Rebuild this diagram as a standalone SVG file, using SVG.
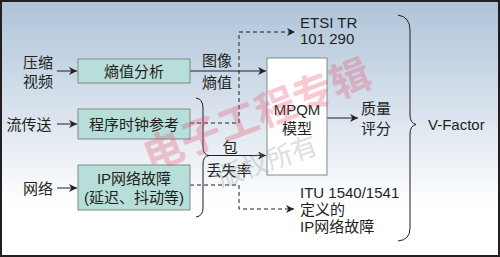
<svg xmlns="http://www.w3.org/2000/svg" width="500" height="257" viewBox="0 0 500 257">
<defs>
<linearGradient id="bg" x1="0" y1="0" x2="0" y2="1">
<stop offset="0" stop-color="#aec3d8"/>
<stop offset="0.45" stop-color="#dbe4ee"/>
<stop offset="0.8" stop-color="#ffffff"/>
<stop offset="1" stop-color="#ffffff"/>
</linearGradient>
<marker id="ah" viewBox="0 0 10 10" refX="10" refY="5" markerWidth="10" markerHeight="8" markerUnits="userSpaceOnUse" orient="auto">
<path d="M0,0 L10,5 L0,10 L3,5 Z" fill="#231f20"/>
</marker>
<style>
text{font-family:"Liberation Sans","Noto Sans CJK SC",sans-serif;font-size:15px;fill:#231f20}
.c{text-anchor:middle}
.box{fill:#b7ded8;stroke:#7f8a8c;stroke-width:1}
.ln{fill:none;stroke:#231f20;stroke-width:1}
.dash{fill:none;stroke:#231f20;stroke-width:1;stroke-dasharray:4,3}
.wm{font-family:"Noto Sans CJK SC",sans-serif}
</style>
</defs>
<rect x="1" y="1" width="498" height="255" fill="url(#bg)" stroke="#231f20" stroke-width="2"/>
<g id="connectors">
<line class="ln" x1="57" y1="71" x2="77" y2="71" marker-end="url(#ah)"/>
<line class="ln" x1="57" y1="124" x2="77" y2="124" marker-end="url(#ah)"/>
<line class="ln" x1="57" y1="188" x2="77" y2="188" marker-end="url(#ah)"/>
<line class="ln" x1="190" y1="71" x2="266" y2="71" marker-end="url(#ah)"/>
<line class="ln" x1="327" y1="118" x2="358" y2="118" marker-end="url(#ah)"/>
<path class="dash" d="M190,123 H239 V32 H295" marker-end="url(#ah)"/>
<path class="dash" d="M190,185 H239 V209 H294" marker-end="url(#ah)"/>
<path class="ln" d="M196,98 Q203,99 203,108 L203,147 Q203,155 209,155.5 Q203,156 203,164 L203,208 Q203,216 196,217"/>
<line class="ln" x1="209" y1="155.5" x2="266" y2="155.5" marker-end="url(#ah)"/>
<path class="ln" d="M398,15 Q410,17 410,30 L410,115 Q410,123 416,124.5 Q410,126 410,134 L410,228 Q410,240 398,241"/>
</g>
<g id="n-compress">
<text class="c" x="38" y="67.5">压缩</text>
<text class="c" x="38" y="86.5">视频</text>
</g>
<g id="n-stream"><text class="c" x="29" y="129.5">流传送</text></g>
<g id="n-net"><text class="c" x="38" y="193.5">网络</text></g>
<g id="n-entropy">
<rect class="box" x="78" y="59" width="112" height="24"/>
<text class="c" x="134" y="76.5">熵值分析</text>
</g>
<g id="n-pcr">
<rect class="box" x="78" y="109" width="112" height="30"/>
<text class="c" x="134" y="129.5">程序时钟参考</text>
</g>
<g id="n-ipimp">
<rect class="box" x="78" y="165" width="112" height="45"/>
<text class="c" x="134" y="184">IP网络故障</text>
<text class="c" x="134" y="202.5">(延迟、抖动等)</text>
</g>
<g id="n-img">
<text class="c" x="217" y="65.5">图像</text>
<text class="c" x="217" y="87.5">熵值</text>
</g>
<g id="n-loss">
<text class="c" x="230" y="152.5">包</text>
<text class="c" x="229" y="175.5">丢失率</text>
</g>
<g id="n-mpqm">
<rect x="267" y="58" width="60" height="117" fill="#ffffff" stroke="#7f8a8c"/>
<text class="c" x="297" y="115.4">MPQM</text>
<text class="c" x="297" y="133.5">模型</text>
</g>
<g id="n-etsi">
<text x="300" y="28.4">ETSI TR</text>
<text x="300" y="44.4">101 290</text>
</g>
<g id="n-score">
<text x="361" y="113.5">质量</text>
<text x="361" y="133.5">评分</text>
</g>
<g id="n-itu">
<text x="300" y="198.4">ITU 1540/1541</text>
<text x="300" y="215">定义的</text>
<text x="300" y="231.5">IP网络故障</text>
</g>
<g id="n-vfactor"><text x="428" y="130.4">V-Factor</text></g>
<g id="watermark" opacity="0.3">
<text class="wm" x="0" y="0" transform="translate(150,171) rotate(-21)" style="font-size:40px;fill:#e8506c;font-weight:bold">电子工程专辑</text>
<text class="wm" x="0" y="0" transform="translate(221,187) rotate(-19)" style="font-size:26px;fill:#8a9098">版权所有</text>
</g>
</svg>
